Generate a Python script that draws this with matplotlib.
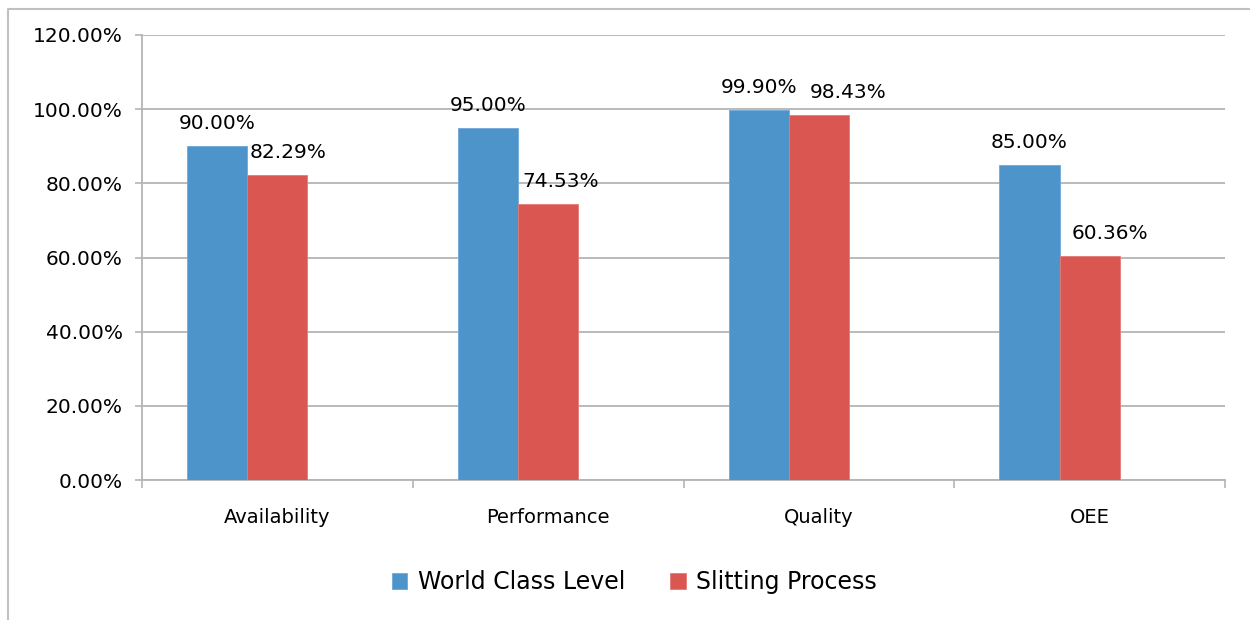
import matplotlib
matplotlib.use("Agg")
import matplotlib.pyplot as plt
from matplotlib.lines import Line2D
from matplotlib.ticker import FuncFormatter, MultipleLocator
import numpy as np

categories = ["Availability", "Performance", "Quality", "OEE"]
world_class = [90.00, 95.00, 99.90, 85.00]
slitting = [82.29, 74.53, 98.43, 60.36]
series_names = ["World Class Level", "Slitting Process"]

BLUE = "#4D94CA"
RED = "#D95651"
GRID = "#B4B4B4"

# label horizontal nudges (pixels) for the red labels, as in the reference
red_label_dx = [11, 13, 29, 20]

plt.rcParams['font.family'] = ['DejaVu Sans']

fig = plt.figure(figsize=(12.5, 6.2), dpi=100)
ax = fig.add_axes([142/1250, 1-480/620, (1225-142)/1250, (480-35)/620])

x = np.arange(len(categories))
w = 1/4.5
ax.bar(x - w, world_class, width=w, color=BLUE, edgecolor="#6FA8D6", linewidth=0.6,
       label=series_names[0], zorder=3)
ax.bar(x, slitting, width=w, color=RED, edgecolor="#E47B77", linewidth=0.6,
       label=series_names[1], zorder=3)

LBL = 14.5
for i in range(len(categories)):
    ax.annotate(f"{world_class[i]:.2f}%", (x[i] - w, world_class[i]),
                xytext=(0, 17), textcoords="offset pixels",
                ha="center", va="baseline", fontsize=LBL, color="black")
    ax.annotate(f"{slitting[i]:.2f}%", (x[i], slitting[i]),
                xytext=(red_label_dx[i], 17), textcoords="offset pixels",
                ha="center", va="baseline", fontsize=LBL, color="black")

ax.set_xlim(-0.5, len(categories) - 0.5)
ax.set_ylim(0, 120)
ax.yaxis.set_major_locator(MultipleLocator(20))
ax.yaxis.set_major_formatter(FuncFormatter(lambda v, p: f"{v:.2f}%"))
ax.grid(axis="y", color=GRID, linewidth=1.3, zorder=0)
ax.set_axisbelow(True)

ax.set_xticks(x)
ax.set_xticklabels(categories)
ax.set_xticks(np.arange(len(categories) + 1) - 0.5, minor=True)
ax.tick_params(axis="x", which="major", length=0, pad=20, labelsize=14)
ax.tick_params(axis="x", which="minor", length=6, width=1.2, color=GRID, direction="out")
ax.tick_params(axis="y", length=5, width=1.2, color=GRID, pad=9, labelsize=14.5)

for s in ["top", "right"]:
    ax.spines[s].set_visible(False)
for s in ["left", "bottom"]:
    ax.spines[s].set_color(GRID)
    ax.spines[s].set_linewidth(1.3)

fig.legend(loc="center", bbox_to_anchor=(0.5076, 1-582/620), ncol=2, frameon=False,
           fontsize=17, handlelength=0.65, handleheight=0.65, handletextpad=0.45,
           columnspacing=1.9, borderpad=0)

fig.add_artist(Line2D([8/1250, 8/1250, 1.0], [0, 1-9/620, 1-9/620],
                      transform=fig.transFigure, color="#C0C0C0", linewidth=1.5))

fig.savefig("out.png", dpi=100, facecolor="white")
